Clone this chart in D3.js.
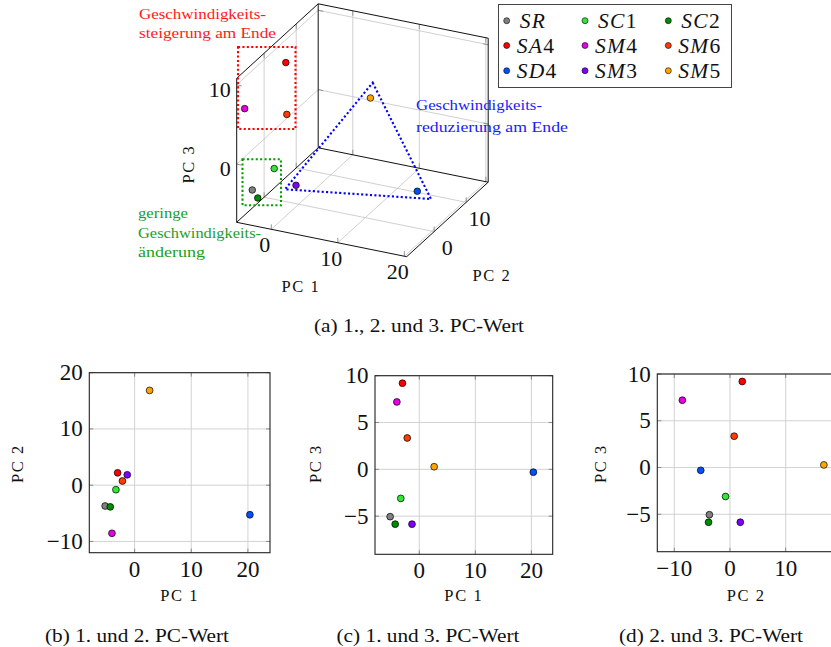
<!DOCTYPE html>
<html><head><meta charset="utf-8">
<script src="https://cdn.jsdelivr.net/npm/d3@7"></script>
<style>body{margin:0;background:#fff} svg{display:block} text{font-family:"Liberation Serif","Times New Roman",Times,serif;fill:#111}</style>
</head><body><svg id="c" width="831" height="647"></svg>
<script>
// ---------------- data ----------------
const names  = ["SR","SC1","SC2","SA4","SM4","SM6","SD4","SM3","SM5"];
const pc1    = [-5.2, -3.3, -4.3, -3.0, -4.0, -2.15, 20.35, -1.3, 2.65];
const pc2    = [-3.7, -0.8, -3.85, 2.2, -8.55, 0.75, -5.25, 1.85, 16.85];
const pc3    = [-5.05, -3.1, -5.85, 9.2, 7.2, 3.35, -0.3, -5.85, 0.28];
const colors = ["#808080","#33e633","#008c00","#ff0000","#e600e6","#ff3c00","#0050ff","#7f00ff","#ffa500"];
const legendOrder = [["SR","SC1","SC2"],["SA4","SM4","SM6"],["SD4","SM3","SM5"]];
const ticks3dPC1 = [0,10,20], ticks3dPC2 = [0,10], ticks3dPC3 = [0,10];
const ticksPC1 = [0,10,20], ticksPC2b = [-10,0,10,20], ticksPC3 = [-5,0,5,10], ticksPC2d = [-10,0,10];
const lim3d = {x:[-5.2,20.35], y:[-8.55,16.85], z:[-7.33,10.82]};
const captions = ["(a) 1., 2. und 3. PC-Wert","(b) 1. und 2. PC-Wert","(c) 1. und 3. PC-Wert","(d) 2. und 3. PC-Wert"];
const pts = names.map((n,i)=>({n, x:pc1[i], y:pc2[i], z:pc3[i], c:colors[i]}));
const colorOf = n => colors[names.indexOf(n)];
const fmt = v => (v<0? "\u2212"+Math.abs(v) : ""+v);
const FONT = '"Liberation Serif","Times New Roman",Times,serif';

const svg = d3.select("#c");

// ---------------- 3D plot ----------------
const A=[236.7,222.3], EX=[170,34.4], EY=[81.5,-74.5], EZ=[0,-144];
const s3x=d3.scaleLinear().domain(lim3d.x).range([0,1]);
const s3y=d3.scaleLinear().domain(lim3d.y).range([0,1]);
const s3z=d3.scaleLinear().domain(lim3d.z).range([0,1]);
function P(x,y,z){const u=s3x(x),v=s3y(y),w=s3z(z);
  return [A[0]+u*EX[0]+v*EY[0]+w*EZ[0], A[1]+u*EX[1]+v*EY[1]+w*EZ[1]];}
const g3=svg.append("g");
const [x0,x1]=lim3d.x,[y0,y1]=lim3d.y,[z0,z1]=lim3d.z;
const line3=(a,b,st,w)=>{const p=P(...a),q=P(...b);
  g3.append("line").attr("x1",p[0]).attr("y1",p[1]).attr("x2",q[0]).attr("y2",q[1])
    .attr("stroke",st).attr("stroke-width",w);};
const grid="#c4c4c4";
ticks3dPC1.forEach(t=>line3([t,y0,z0],[t,y1,z0],grid,0.8));
ticks3dPC2.forEach(t=>line3([x0,t,z0],[x1,t,z0],grid,0.8));
ticks3dPC1.forEach(t=>line3([t,y1,z0],[t,y1,z1],grid,0.8));
ticks3dPC3.forEach(t=>line3([x0,y1,t],[x1,y1,t],grid,0.8));
ticks3dPC2.forEach(t=>line3([x0,t,z0],[x0,t,z1],grid,0.8));
ticks3dPC3.forEach(t=>line3([x0,y0,t],[x0,y1,t],grid,0.8));
const tk="#8a8a8a";
const tick2=(p,dx,dy)=>g3.append("line").attr("x1",p[0]).attr("y1",p[1]).attr("x2",p[0]+dx).attr("y2",p[1]+dy).attr("stroke",tk).attr("stroke-width",0.9);
ticks3dPC1.forEach(t=>{tick2(P(t,y0,z0),0,-5);tick2(P(t,y1,z0),0,-5);tick2(P(t,y1,z1),0,5);});
ticks3dPC2.forEach(t=>{tick2(P(x1,t,z0),0,-5);tick2(P(x0,t,z0),0,-5);tick2(P(x0,t,z1),0,5);});
ticks3dPC3.forEach(t=>{tick2(P(x0,y0,t),5,1);tick2(P(x0,y1,t),5,1);tick2(P(x1,y1,t),-5,-1);});
const edges=[[[x0,y0,z0],[x1,y0,z0]],[[x1,y0,z0],[x1,y1,z0]],[[x0,y1,z0],[x1,y1,z0]],[[x0,y0,z0],[x0,y1,z0]],
  [[x0,y0,z0],[x0,y0,z1]],[[x0,y0,z1],[x0,y1,z1]],[[x0,y1,z0],[x0,y1,z1]],[[x0,y1,z1],[x1,y1,z1]],[[x1,y1,z0],[x1,y1,z1]]];
edges.forEach(e=>line3(e[0],e[1],"#111",1));
const tl=(g,x,y,anchor,txt,fs)=>g.append("text").attr("x",x).attr("y",y).attr("text-anchor",anchor)
  .attr("dominant-baseline","central").attr("font-family",FONT).attr("font-size",fs).text(txt);
ticks3dPC1.forEach(t=>{const p=P(t,y0,z0);tl(g3,p[0]-6.5,p[1]+15.5,"middle",fmt(t),22);});
ticks3dPC2.forEach(t=>{const p=P(x1,t,z0);tl(g3,p[0]+13.2,p[1]+16,"middle",fmt(t),22);});
ticks3dPC3.forEach(t=>{const p=P(x0,y0,t);tl(g3,p[0]-6,p[1]+4.5,"end",fmt(t),22);});
const axLab=(g,x,y,txt,rot)=>{const t=g.append("text").attr("x",x).attr("y",y).attr("text-anchor","middle")
  .attr("dominant-baseline","central").attr("font-family",FONT).attr("font-size",16.5).attr("letter-spacing",1.6).text(txt);
  if(rot) t.attr("transform",`rotate(-90,${x},${y})`);};
axLab(g3,301,286.7,"PC 1");
axLab(g3,492,275,"PC 2");
axLab(g3,188.5,164,"PC 3",true);
const applyDot=(sel,col)=>sel.attr("stroke",col).attr("stroke-width",2.1).attr("stroke-dasharray","2.1 2.3").attr("fill","none");
applyDot(g3.append("rect").attr("x",238).attr("y",47).attr("width",57.5).attr("height",82),"#ff0000");
applyDot(g3.append("rect").attr("x",242.5).attr("y",159.3).attr("width",38.5).attr("height",46),"#00a000");
applyDot(g3.append("path").attr("d","M372.7,82.7 L431,199 L285,189.3 Z"),"#0000ff");
g3.selectAll("circle.p3").data(pts).enter().append("circle")
  .attr("cx",d=>P(d.x,d.y,d.z)[0]).attr("cy",d=>P(d.x,d.y,d.z)[1]).attr("r",3.3)
  .attr("fill",d=>d.c).attr("stroke","#000").attr("stroke-width",0.7);
const ann=(x,y,txt,col,len)=>g3.append("text").attr("x",x).attr("y",y).attr("dominant-baseline","central")
  .attr("font-family",FONT).attr("font-size",15).style("fill",col).attr("textLength",len).attr("lengthAdjust","spacingAndGlyphs").text(txt);
ann(139,14,"Geschwindigkeits-","#ff1a1a",127);
ann(139,32.5,"steigerung am Ende","#ff1a1a",137);
ann(138,213,"geringe","#1aa01a",50);
ann(138,233,"Geschwindigkeits-","#1aa01a",123);
ann(138,251.5,"änderung","#1aa01a",67);
ann(416,105,"Geschwindigkeits-","#1a1aff",126);
ann(416,127,"reduzierung am Ende","#1a1aff",152);

// ---------------- legend ----------------
const lg=svg.append("g");
lg.append("rect").attr("x",498.5).attr("y",4.5).attr("width",233).attr("height",83).attr("fill","#fff").attr("stroke","#444").attr("stroke-width",1);
const colX=[506.7,585,668.3], rowY=[20.7,45.5,70.7];
legendOrder.forEach((row,ri)=>row.forEach((n,ci)=>{
  lg.append("circle").attr("cx",colX[ci]).attr("cy",rowY[ri]).attr("r",3).attr("fill",colorOf(n)).attr("stroke","#000").attr("stroke-width",0.6);
  const t=lg.append("text").attr("x",colX[ci]+(ri===0?13:10)).attr("y",rowY[ri]).attr("dominant-baseline","central")
    .attr("font-family",FONT).attr("font-size",21.5).attr("letter-spacing",1.3);
  const m=n.match(/^([A-Z]+)(\d*)$/);
  t.append("tspan").attr("font-style","italic").text(m[1]);
  if(m[2]) t.append("tspan").text(m[2]);
}));

// ---------------- 2D plots ----------------
function plot2d(o){
  const g=svg.append("g");
  const xs=d3.scaleLinear().domain(o.xd).range([o.l,o.r]);
  const ys=d3.scaleLinear().domain(o.yd).range([o.b,o.t]);
  o.xt.forEach(t=>g.append("line").attr("x1",xs(t)).attr("x2",xs(t)).attr("y1",o.t).attr("y2",o.b).attr("stroke","#cdcdcd").attr("stroke-width",0.9));
  o.yt.forEach(t=>g.append("line").attr("y1",ys(t)).attr("y2",ys(t)).attr("x1",o.l).attr("x2",o.r).attr("stroke","#cdcdcd").attr("stroke-width",0.9));
  o.xt.forEach(t=>{[[o.b,-4],[o.t,4]].forEach(([y,d])=>g.append("line").attr("x1",xs(t)).attr("x2",xs(t)).attr("y1",y).attr("y2",y+d).attr("stroke","#888").attr("stroke-width",1));});
  o.yt.forEach(t=>{[[o.l,4],[o.r,-4]].forEach(([x,d])=>g.append("line").attr("y1",ys(t)).attr("y2",ys(t)).attr("x1",x).attr("x2",x+d).attr("stroke","#888").attr("stroke-width",1));});
  g.append("rect").attr("x",o.l).attr("y",o.t).attr("width",o.r-o.l).attr("height",o.b-o.t).attr("fill","none").attr("stroke","#222").attr("stroke-width",1.1);
  o.xt.forEach(t=>tl(g,xs(t),o.b+16.5,"middle",fmt(t),23));
  o.yt.forEach(t=>tl(g,o.l-6.5,ys(t),"end",fmt(t),23));
  axLab(g,(o.l+o.r)/2,595.7,o.xl);
  axLab(g,o.ylx,463.5,o.yl,true);
  g.selectAll("circle").data(pts).enter().append("circle")
    .attr("cx",d=>xs(d[o.kx])).attr("cy",d=>ys(d[o.ky])).attr("r",3.4)
    .attr("fill",d=>d.c).attr("stroke","#000").attr("stroke-width",0.7);
}
plot2d({l:89.3,r:270,t:372.7,b:552.7,xd:[-8,23.9],yd:[-12,20],xt:ticksPC1,yt:ticksPC2b,kx:"x",ky:"y",xl:"PC 1",yl:"PC 2",ylx:17});
plot2d({l:375,r:552.7,t:375.7,b:554.3,xd:[-7.9,23.8],yd:[-9.07,10],xt:ticksPC1,yt:ticksPC3,kx:"x",ky:"z",xl:"PC 1",yl:"PC 3",ylx:315});
plot2d({l:657.3,r:835,t:374,b:551.7,xd:[-13.05,18.85],yd:[-9,10],xt:ticksPC2d,yt:ticksPC3,kx:"y",ky:"z",xl:"PC 2",yl:"PC 3",ylx:600});

// ---------------- captions ----------------
const cap=[[419,325,210],[137,635,184],[428,635,183],[711,635,184]];
captions.forEach((c,i)=>svg.append("text").attr("x",cap[i][0]).attr("y",cap[i][1]).attr("text-anchor","middle")
  .attr("dominant-baseline","central").attr("font-family",FONT).attr("font-size",19.5).attr("textLength",cap[i][2]).attr("lengthAdjust","spacingAndGlyphs").text(c));
</script></body></html>
